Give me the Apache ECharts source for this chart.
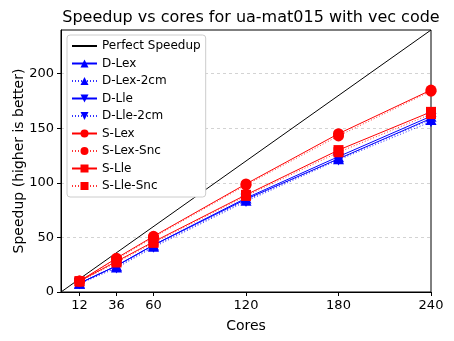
<!DOCTYPE html>
<html>
<head>
<meta charset="utf-8">
<script src="https://cdn.jsdelivr.net/npm/echarts@6/dist/echarts.min.js"></script>
<style>
html, body { margin: 0; padding: 0; background: #fff; }
#chart { width: 454px; height: 341px; }
</style>
</head>
<body>
<div id="chart"></div>
<script>
// 코어 수
var cores = [12, 36, 60, 120, 180, 240];
var coreTicks = [12, 36, 60, 120, 180, 240];
var speedTicks = [0, 50, 100, 150, 200];

// 스피드업 값
var dLex = [8, 24, 43, 86, 124, 161];
var dLex2cm = [8, 23, 42, 84, 122, 158];
var dLle = [8, 24, 43, 85, 122, 159];
var dLle2cm = [7.5, 22, 41, 83, 121, 156];
var sLex = [10, 31, 51, 99, 145, 185];
var sLexSnc = [10, 30, 50, 98, 143, 184];
var sLle = [10, 28, 46, 89, 130, 165];
var sLleSnc = [9.5, 27, 45, 88, 128, 163];
var perfect = [0, 240];

function pairs(xs, ys) {
    return xs.map(function(x, i) { return [x, ys[i]]; });
}

function mk(name, ys, color, symbol, dotted, rotate) {
    return {
        name: name,
        type: 'line',
        data: pairs(cores, ys),
        symbol: symbol,
        symbolSize: symbol == 'rect' ? 10 : 11,
        symbolRotate: rotate || 0,
        itemStyle: { color: color },
        lineStyle: { color: color, width: 1, type: dotted ? [1, 2] : 'solid', opacity: dotted ? 0.8 : 1 },
        z: 3
    };
}

var myChart = echarts.init(document.getElementById('chart'));

var font = 'DejaVu Sans';

var option = {
    animation: false,
    title: {
        text: 'Speedup vs cores for ua-mat015 with vec code',
        left: 246,
        textAlign: 'center',
        top: 5,
        textStyle: { fontFamily: font, fontSize: 16, fontWeight: 'normal', color: '#000' }
    },
    legend: {
        orient: 'vertical',
        left: 67,
        top: 35,
        itemWidth: 25,
        itemHeight: 10,
        itemGap: 5.5,
        padding: [5, 5, 5, 4],
        backgroundColor: '#fff',
        borderColor: '#ccc',
        borderWidth: 1,
        borderRadius: 3,
        textStyle: { fontFamily: font, fontSize: 12, color: '#000' },
        data: [
            { name: 'Perfect Speedup', itemStyle: { color: 'rgba(0,0,0,0)', borderWidth: 0 } },
            'D-Lex', 'D-Lex-2cm', 'D-Lle', 'D-Lle-2cm', 'S-Lex', 'S-Lex-Snc', 'S-Lle', 'S-Lle-Snc'
        ]
    },
    grid: {
        left: 61,
        right: 23,
        top: 30,
        bottom: 49,
        outerBoundsMode: 'none',
        show: true,
        borderColor: '#000',
        borderWidth: 1
    },
    xAxis: {
        type: 'value',
        min: 0,
        max: 240,
        name: 'Cores',
        nameLocation: 'middle',
        nameGap: 27,
        nameTextStyle: { fontFamily: font, fontSize: 14, color: '#000' },
        axisLine: { lineStyle: { color: '#000' } },
        axisTick: { show: true, length: 4, customValues: coreTicks, lineStyle: { color: '#000' } },
        axisLabel: { customValues: coreTicks, fontFamily: font, fontSize: 13, color: '#000', margin: 7 },
        splitLine: { show: false }
    },
    yAxis: {
        type: 'value',
        min: 0,
        max: 240,
        interval: 50,
        name: 'Speedup (higher is better)',
        nameLocation: 'middle',
        nameGap: 35,
        nameMoveOverlap: false,
        nameTextStyle: { fontFamily: font, fontSize: 14, color: '#000' },
        axisLine: { show: true, lineStyle: { color: '#000' } },
        axisTick: { show: true, length: 4, customValues: speedTicks, lineStyle: { color: '#000' } },
        axisLabel: { customValues: speedTicks, fontFamily: font, fontSize: 13, color: '#000', margin: 7 },
        splitLine: { show: true, lineStyle: { color: '#c8c8c8', type: [3, 3], width: 0.8 } }
    },
    series: [
        {
            name: 'Perfect Speedup',
            type: 'line',
            data: pairs(perfect, perfect),
            symbol: 'none',
            itemStyle: { color: '#000' },
            lineStyle: { color: '#000', width: 1 },
            z: 2
        },
        mk('D-Lex', dLex, '#0000ff', 'triangle', false),
        mk('D-Lex-2cm', dLex2cm, '#0000ff', 'triangle', true),
        mk('D-Lle', dLle, '#0000ff', 'triangle', false, 180),
        mk('D-Lle-2cm', dLle2cm, '#0000ff', 'triangle', true, 180),
        mk('S-Lex', sLex, '#ff0000', 'circle', false),
        mk('S-Lex-Snc', sLexSnc, '#ff0000', 'circle', true),
        mk('S-Lle', sLle, '#ff0000', 'rect', false),
        mk('S-Lle-Snc', sLleSnc, '#ff0000', 'rect', true)
    ]
};

myChart.setOption(option);

window.addEventListener('resize', function() {
    myChart.resize();
});
</script>
</body>
</html>
